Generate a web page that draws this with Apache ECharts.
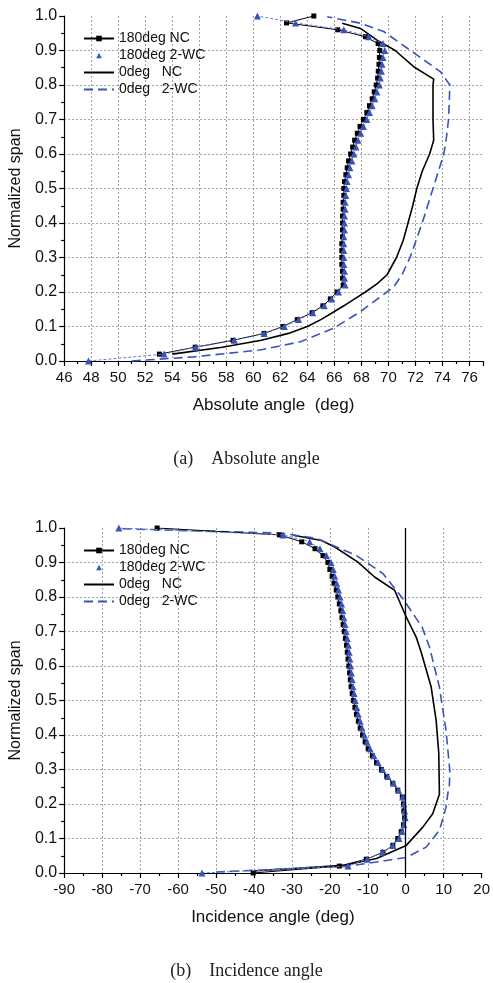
<!DOCTYPE html>
<html>
<head>
<meta charset="utf-8">
<script src="https://cdn.jsdelivr.net/npm/echarts@6/dist/echarts.min.js"></script>
<style>
  html, body { margin: 0; padding: 0; background: #fff; }
  #c { width: 493px; height: 983px; }
</style>
</head>
<body>
<div id="c"></div>
<script>
// ---- span stations of the 180deg traverses (every 0.02) ----
const span180 = [0.00, 0.02, 0.04, 0.06, 0.08, 0.10, 0.12, 0.14, 0.16, 0.18,
  0.20, 0.22, 0.24, 0.26, 0.28, 0.30, 0.32, 0.34, 0.36, 0.38,
  0.40, 0.42, 0.44, 0.46, 0.48, 0.50, 0.52, 0.54, 0.56, 0.58,
  0.60, 0.62, 0.64, 0.66, 0.68, 0.70, 0.72, 0.74, 0.76, 0.78,
  0.80, 0.82, 0.84, 0.86, 0.88, 0.90, 0.92, 0.94, 0.96, 0.98, 1.00];

// ---- (a) absolute angle, deg ----
// 180deg NC has no value at the hub station
const absNC180 = [null, 53.05, 55.7, 58.5, 60.8, 62.2, 63.25, 64.35, 65.15, 65.7,
  66.2, 66.65, 66.6, 66.6, 66.55, 66.55, 66.55, 66.55, 66.6, 66.6,
  66.6, 66.6, 66.65, 66.65, 66.7, 66.7, 66.75, 66.85, 66.95, 67.05,
  67.2, 67.35, 67.5, 67.7, 67.9, 68.15, 68.4, 68.6, 68.8, 68.95,
  69.1, 69.2, 69.25, 69.3, 69.33, 69.36, 69.24, 68.3, 66.25, 62.46, 64.48];
const absWC180 = [47.8, 53.4, 55.75, 58.6, 60.8, 62.3, 63.35, 64.4, 65.25, 65.8,
  66.3, 66.8, 66.75, 66.75, 66.7, 66.7, 66.7, 66.7, 66.7, 66.75,
  66.75, 66.75, 66.8, 66.8, 66.85, 66.9, 66.95, 67.05, 67.15, 67.3,
  67.45, 67.6, 67.75, 67.95, 68.15, 68.4, 68.6, 68.8, 69.0, 69.15,
  69.33, 69.4, 69.48, 69.53, 69.6, 69.73, 69.6, 68.54, 66.7, 63.13, 60.3];

const absNC0Span = [0.02, 0.04, 0.06, 0.08, 0.10, 0.12, 0.14, 0.16, 0.18, 0.20,
  0.225, 0.25, 0.30, 0.35, 0.40, 0.45, 0.50, 0.55, 0.60, 0.64,
  0.70, 0.75, 0.80, 0.817, 0.853, 0.90, 0.93, 0.964, 0.979];
const absNC0 = [54.0, 57.7, 60.6, 62.6, 64.0, 65.0, 65.85, 66.7, 67.5, 68.3,
  69.2, 69.9, 70.6, 71.1, 71.45, 71.8, 72.1, 72.5, 73.05, 73.35,
  73.3, 73.3, 73.3, 73.35, 71.87, 70.5, 69.16, 67.93, 66.58];

const absWC0Span = [0.0, 0.012, 0.032, 0.056, 0.095, 0.143, 0.186, 0.215, 0.25, 0.30,
  0.40, 0.50, 0.60, 0.65, 0.70, 0.80, 0.805, 0.839, 0.901, 0.955, 0.979, 0.998];
const absWC0 = [51.0, 55.6, 60.5, 63.5, 65.95, 67.93, 69.4, 70.4, 71.0, 71.6,
  72.5, 73.3, 74.1, 74.3, 74.45, 74.55, 74.58, 73.84, 71.6, 69.65, 67.93, 65.47];

// ---- (b) incidence angle, deg ----
const incNC180 = [-40.2, -17.5, -10.4, -6.0, -3.4, -2.1, -1.2, -0.6, -0.3, -0.5,
  -0.6, -0.9, -2.1, -3.4, -5.0, -6.4, -7.7, -8.8, -9.9, -10.7,
  -11.4, -12.0, -12.5, -13.0, -13.4, -13.8, -14.1, -14.4, -14.6, -14.8,
  -15.0, -15.2, -15.4, -15.6, -15.9, -16.2, -16.5, -16.8, -17.1, -17.5,
  -17.9, -18.3, -18.9, -19.4, -20.0, -20.5, -21.8, -23.9, -27.4, -33.3, -65.5];
const incWC180 = [-53.7, -15.2, -10.2, -6.1, -3.4, -1.8, -1.0, -0.5, -0.15, -0.3,
  -0.5, -0.8, -1.9, -3.2, -4.7, -6.1, -7.3, -8.4, -9.4, -10.2,
  -10.9, -11.5, -12.0, -12.5, -12.9, -13.3, -13.6, -13.9, -14.1, -14.3,
  -14.5, -14.7, -14.9, -15.1, -15.4, -15.7, -16.0, -16.3, -16.6, -16.9,
  -17.3, -17.7, -18.2, -18.7, -19.1, -19.7, -20.9, -22.6, -25.3, -32.3, -75.6];

const incNC0Span = [0.006, 0.013, 0.022, 0.042, 0.08, 0.133, 0.172, 0.228, 0.347, 0.443,
  0.539, 0.64, 0.684, 0.742, 0.819, 0.858, 0.901, 0.945, 0.964, 0.979];
const incNC0 = [-40.3, -29.6, -16.5, -7.7, 0.13, 4.5, 7.1, 8.87, 8.7, 8.0,
  6.7, 4.07, 2.75, 0.13, -2.9, -8.2, -12.6, -18.7, -22.2, -29.6];

const incWC0Span = [0.003, 0.010, 0.016, 0.019, 0.032, 0.045, 0.075, 0.124, 0.162, 0.191,
  0.231, 0.254, 0.298, 0.414, 0.539, 0.655, 0.713, 0.795, 0.868, 0.92,
  0.97, 0.985, 0.998];
const incWC0 = [-50.0, -35.0, -25.0, -15.6, -7.7, 0.13, 5.4, 8.87, 9.9, 10.6,
  11.1, 11.5, 11.6, 10.6, 8.87, 6.25, 4.3, -0.76, -6.0, -13.0,
  -23.5, -33.0, -75.6];

// ---- axis ticks ----
const absTicks = { min: 46, max: 77, step: 2 };
const incTicks = { min: -90, max: 20, step: 10 };
const spanTicks = { min: 0, max: 1, step: 0.1 };

const seriesNames = ['180deg NC', '180deg 2-WC', '0deg   NC', '0deg   2-WC'];
const captions = ['(a)    Absolute angle', '(b)    Incidence angle'];
const xTitles = ['Absolute angle  (deg)', 'Incidence angle (deg)'];
const yTitle = 'Normalized span';

// ---- helpers ----
const FONT = 'Arial, "Liberation Sans", sans-serif';
const SERIF = '"Times New Roman", "Liberation Serif", serif';
const BLUE = '#3a53b8';
const axisLine = { color: '#000', width: 1.2 };

function pairs(xs, ys) {
  const out = [];
  for (let i = 0; i < xs.length; i++) {
    if (ys[i] === null || xs[i] === null) continue;
    out.push([xs[i], ys[i]]);
  }
  return out;
}

function xAxis(gi, t, title) {
  return {
    type: 'value', gridIndex: gi, min: t.min, max: t.max, interval: t.step,
    name: title, nameLocation: 'middle', nameGap: 36,
    nameTextStyle: { fontSize: 17, color: '#111', fontFamily: FONT },
    axisLine: { show: true, onZero: false, lineStyle: axisLine },
    axisTick: { show: true, inside: false, length: 5, lineStyle: axisLine },
    minorTick: { show: true, splitNumber: 2, length: 3, lineStyle: axisLine },
    axisLabel: { fontSize: 15, color: '#111', fontFamily: FONT, margin: 9, showMaxLabel: t.max % t.step === 0 },
    splitLine: { show: true, showMinLine: false, showMaxLine: false,
      lineStyle: { color: '#8a8a8a', type: [2, 2], width: 0.8 } }
  };
}

function yAxis(gi, t) {
  return {
    type: 'value', gridIndex: gi, min: t.min, max: t.max, interval: t.step,
    name: yTitle, nameLocation: 'middle', nameGap: 37, nameRotate: 90,
    nameTextStyle: { fontSize: 16, color: '#111', fontFamily: FONT },
    axisLine: { show: true, onZero: false, lineStyle: axisLine },
    axisTick: { show: true, inside: false, length: 5, lineStyle: axisLine },
    minorTick: { show: true, splitNumber: 2, length: 3, lineStyle: axisLine },
    axisLabel: { fontSize: 16, color: '#111', fontFamily: FONT, margin: 7,
      formatter: v => v.toFixed(1) },
    splitLine: { show: true, showMinLine: false, showMaxLine: false,
      lineStyle: { color: '#8a8a8a', type: [2, 2], width: 0.8 } }
  };
}

function seriesSet(gi, nc180, wc180, nc0, wc0, withZeroLine) {
  const s = [
    { name: seriesNames[0], type: 'line', xAxisIndex: gi, yAxisIndex: gi,
      data: nc180, symbol: 'rect', symbolSize: 5, showAllSymbol: true,
      itemStyle: { color: '#000' }, lineStyle: { color: '#000', width: 1 }, z: 3 },
    { name: seriesNames[1], type: 'line', xAxisIndex: gi, yAxisIndex: gi,
      data: wc180, symbol: 'triangle', symbolSize: 7, showAllSymbol: true,
      itemStyle: { color: BLUE }, lineStyle: { color: '#6a7ccc', width: 1, type: [3, 2] }, z: 4 },
    { name: seriesNames[2], type: 'line', xAxisIndex: gi, yAxisIndex: gi,
      data: nc0, symbol: 'none',
      lineStyle: { color: '#000', width: 1.6 }, itemStyle: { color: '#000' }, z: 2 },
    { name: seriesNames[3], type: 'line', xAxisIndex: gi, yAxisIndex: gi,
      data: wc0, symbol: 'none',
      lineStyle: { color: BLUE, width: 1.6, type: [9, 5] }, itemStyle: { color: BLUE }, z: 2 }
  ];
  if (withZeroLine) {
    // zero-incidence reference line
    s[2].markLine = {
      silent: true, symbol: 'none', label: { show: false },
      lineStyle: { color: '#000', width: 1.3, type: 'solid' },
      data: [{ xAxis: 0 }]
    };
  }
  return s;
}

function legend(top) {
  return {
    orient: 'vertical', left: 78, top: top, itemWidth: 30, itemHeight: 7, itemGap: 2,
    padding: 5,
    textStyle: { fontSize: 14, color: '#111', fontFamily: FONT, lineHeight: 15 },
    data: [
      { name: seriesNames[0] },
      { name: seriesNames[1], lineStyle: { width: 0, opacity: 0 } },
      { name: seriesNames[2], itemStyle: { opacity: 0 } },
      { name: seriesNames[3], itemStyle: { opacity: 0 } }
    ]
  };
}

const chart = echarts.init(document.getElementById('c'), null, { renderer: 'canvas' });
chart.setOption({
  animation: false,
  backgroundColor: '#fff',
  grid: [
    { left: 63, right: 10, top: 16, height: 345 },
    { left: 63, right: 10, top: 528, height: 345 }
  ],
  legend: [legend(26), legend(538)],
  xAxis: [xAxis(0, absTicks, xTitles[0]), xAxis(1, incTicks, xTitles[1])],
  yAxis: [yAxis(0, spanTicks), yAxis(1, spanTicks)],
  series: [
    ...seriesSet(0, pairs(absNC180, span180), pairs(absWC180, span180),
      pairs(absNC0, absNC0Span), pairs(absWC0, absWC0Span), false),
    ...seriesSet(1, pairs(incNC180, span180), pairs(incWC180, span180),
      pairs(incNC0, incNC0Span), pairs(incWC0, incWC0Span), true)
  ],
  graphic: [
    { type: 'text', left: 'center', top: 450,
      style: { text: captions[0], fontSize: 18, fontFamily: SERIF, fill: '#222' } },
    { type: 'text', left: 'center', top: 962,
      style: { text: captions[1], fontSize: 18, fontFamily: SERIF, fill: '#222' } }
  ]
});
</script>
</body>
</html>
